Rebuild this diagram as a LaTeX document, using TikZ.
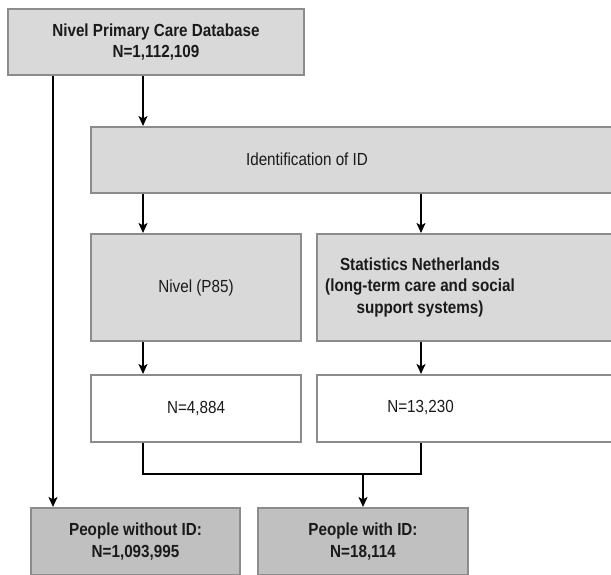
\documentclass[tikz,border=0pt]{standalone}
\usepackage{fontspec}
\setmainfont[FakeStretch=0.87]{Liberation Sans}
\usetikzlibrary{arrows.meta}
\definecolor{boxfill}{HTML}{D9D9D9}
\definecolor{darkfill}{HTML}{C0C0C0}
\definecolor{boxline}{HTML}{8C8C8C}
\definecolor{txt}{HTML}{1A1A1A}
\tikzset{
  box/.style={draw=boxline, line width=2pt, fill=boxfill, rectangle, inner sep=0pt, anchor=north west, text=txt, align=center, font=\fontsize{17.5}{21.5}\selectfont},
  wbox/.style={box, fill=white},
  dbox/.style={box, fill=darkfill},
  lbl/.style={text=txt, align=center, font=\fontsize{17.5}{21.5}\selectfont, inner sep=0pt},
  arr/.style={line width=1.8pt, -{Stealth[length=10pt,width=9pt,inset=2.5pt]}},
  ln/.style={line width=1.8pt}
}
\begin{document}
\begin{tikzpicture}[x=1pt,y=-1pt]
\useasboundingbox (0,0) rectangle (611,575);
\clip (0,0) rectangle (611,575);
% boxes
\node[box, minimum width=296pt, minimum height=66pt] (top) at (7,8) {\bfseries Nivel Primary Care Database\\\bfseries N=1,112,109};
\node[box, minimum width=540pt, minimum height=66pt] (ident) at (90,126) {};
\node[lbl] (identlbl) at (307,159) {Identification of ID};
\node[box, minimum width=210pt, minimum height=107pt] (nivel) at (90,233) {Nivel (P85)};
\node[box, minimum width=320pt, minimum height=107pt] (stat) at (316,233) {};
\node[lbl, font=\bfseries\fontsize{17.5}{21.5}\selectfont] (statlbl) at (420,287) {Statistics Netherlands\\(long-term care and social\\support systems)};
\node[wbox, minimum width=210pt, minimum height=67pt] (n1) at (90,374) {N=4,884};
\node[wbox, minimum width=320pt, minimum height=67pt] (n2) at (316,374) {};
\node[lbl] (n2lbl) at (420.5,407.5) {N=13,230};
\node[dbox, minimum width=209pt, minimum height=67pt] (without) at (30,507) {\bfseries People without ID:\\\bfseries N=1,093,995};
\node[dbox, minimum width=210pt, minimum height=67pt] (with) at (257,507) {\bfseries People with ID:\\\bfseries N=18,114};
% connectors
\coordinate (xa) at (53,0);
\coordinate (xb) at (143,0);
\coordinate (xc) at (421,0);
\coordinate (xd) at (363,0);
\coordinate (join) at (0,474);
\draw[arr] (xa |- top.south) -- (xa |- without.north);
\draw[arr] (xb |- top.south) -- (xb |- ident.north);
\draw[arr] (xb |- ident.south) -- (xb |- nivel.north);
\draw[arr] (xc |- ident.south) -- (xc |- stat.north);
\draw[arr] (xb |- nivel.south) -- (xb |- n1.north);
\draw[arr] (xc |- stat.south) -- (xc |- n2.north);
\draw[ln] (xb |- n1.south) -- (xb |- join) -- (xc |- join) -- (xc |- n2.south);
\draw[arr] (xd |- join) -- (xd |- with.north);
\end{tikzpicture}
\end{document}
